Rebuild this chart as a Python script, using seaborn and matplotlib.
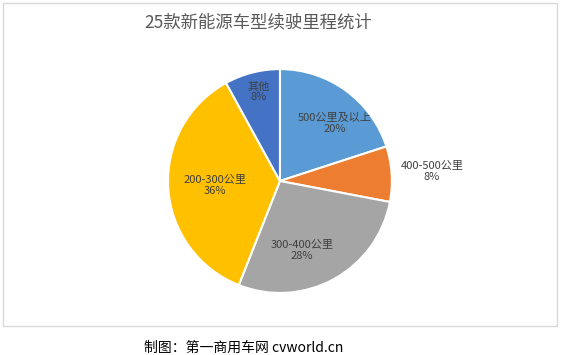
import numpy as np
import matplotlib
matplotlib.use("Agg")
import matplotlib.pyplot as plt
import seaborn as sns
from matplotlib.patches import Rectangle

sns.set_theme(style="white")
plt.rcParams["font.family"] = ["Noto Sans CJK SC", "DejaVu Sans"]

# data
categories = ["500公里及以上", "400-500公里", "300-400公里", "200-300公里", "其他"]
shares = [20, 8, 28, 36, 8]
colors = ["#5B9BD5", "#ED7D31", "#A5A5A5", "#FFC000", "#4472C4"]
# label placement: distance from centre (fraction of radius) and angle nudge (deg)
label_dist = [0.71, 1.36, 0.65, 0.58, 0.82]
label_nudge = [-8, 0, -11, 0, -1]

fig = plt.figure(figsize=(5.61, 3.55), dpi=100)
ax = fig.add_axes([0.2995, 0.1746, 0.399, 0.631])

wedges, _ = ax.pie(shares, colors=colors, startangle=90, counterclock=False,
                   wedgeprops=dict(edgecolor="white", linewidth=1.5))
ax.set_xlim(-1, 1)
ax.set_ylim(-1, 1)
ax.set_aspect("equal")
ax.axis("off")

for w, name, val, d, nd in zip(wedges, categories, shares, label_dist, label_nudge):
    ang = np.deg2rad((w.theta1 + w.theta2) / 2 + nd)
    ax.text(d * np.cos(ang), d * np.sin(ang), f"{name}\n{val}%",
            ha="center", va="center", fontsize=8, color="#404040",
            linespacing=1.1)

fig.patches.append(Rectangle((3 / 561, 29 / 355), 554 / 561, 323 / 355,
                             transform=fig.transFigure, fill=False,
                             edgecolor="#D9D9D9", linewidth=1))

fig.text(0.461, 0.938, "25款新能源车型续驶里程统计", ha="center", va="center",
         fontsize=12.5, color="#595959")
fig.text(0.435, 0.02, "制图：第一商用车网 cvworld.cn", ha="center", va="center",
         fontsize=10, color="black")

fig.savefig("out.png", dpi=100)
